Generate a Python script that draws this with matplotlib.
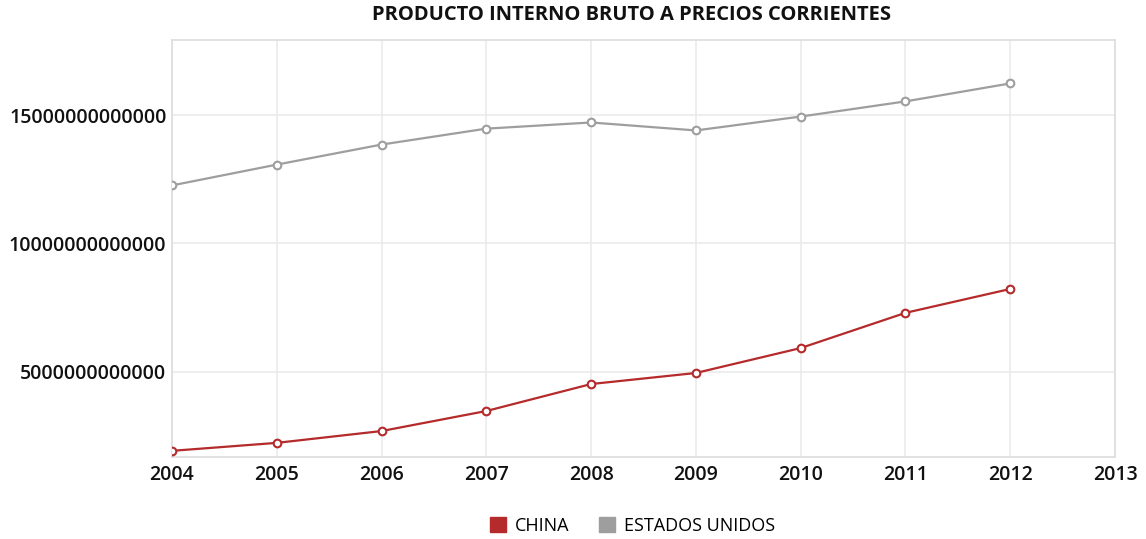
import matplotlib
matplotlib.use("Agg")
import matplotlib.pyplot as plt
from matplotlib.patches import Patch

years = [2004, 2005, 2006, 2007, 2008, 2009, 2010, 2011, 2012]
china = [1.93e12, 2.24e12, 2.70e12, 3.48e12, 4.53e12, 4.96e12, 5.93e12, 7.30e12, 8.23e12]
usa = [12.26e12, 13.07e12, 13.85e12, 14.47e12, 14.71e12, 14.40e12, 14.94e12, 15.53e12, 16.23e12]
x_ticks = list(range(2004, 2014))
y_ticks = [5e12, 10e12, 15e12]
title = "PRODUCTO INTERNO BRUTO A PRECIOS CORRIENTES"
series_names = ["CHINA", "ESTADOS UNIDOS"]
c_china = "#b52a2a"
c_usa = "#9e9e9e"

plt.rcParams['font.family'] = ['Open Sans', 'DejaVu Sans']

fig = plt.figure(figsize=(11.46, 5.39), dpi=100)
ax = fig.add_axes([172/1146, 1-457/539, (1115-172)/1146, (457-40)/539])

for vals, col in [(china, c_china), (usa, c_usa)]:
    ax.plot(years, vals, color=col, lw=1.6, marker='o', ms=5.5,
            mfc='white', mec=col, mew=1.5, zorder=3)

ax.set_xlim(2004, 2013)
ax.set_ylim(1.69e12, 17.92e12)
ax.set_xticks(x_ticks)
ax.set_xticklabels([str(t) for t in x_ticks])
ax.set_yticks(y_ticks)
ax.set_yticklabels([f"{int(v)}" for v in y_ticks])
ax.tick_params(length=0, labelsize=14, pad=6, labelcolor='#111111')
ax.tick_params(axis='y', pad=4)
for lab in ax.get_xticklabels() + ax.get_yticklabels():
    lab.set_fontweight('semibold')
ax.grid(True, color='#ebebeb', lw=1.2)
ax.set_axisbelow(True)
for s in ax.spines.values():
    s.set_color('#dddddd')
    s.set_linewidth(1.2)

fig.text(0.551, 1-15/539, title, ha='center', va='center', fontsize=14.5,
         fontweight='bold', color='#111111')

handles = [Patch(facecolor=c_china, edgecolor=c_china), Patch(facecolor=c_usa, edgecolor=c_usa)]
fig.legend(handles, series_names, loc='center', bbox_to_anchor=(0.552, 1-526/539),
           ncol=2, frameon=False, fontsize=13, handlelength=0.9, handleheight=0.9,
           columnspacing=1.6, handletextpad=0.5)

fig.savefig("out.png", dpi=100, facecolor='white')
